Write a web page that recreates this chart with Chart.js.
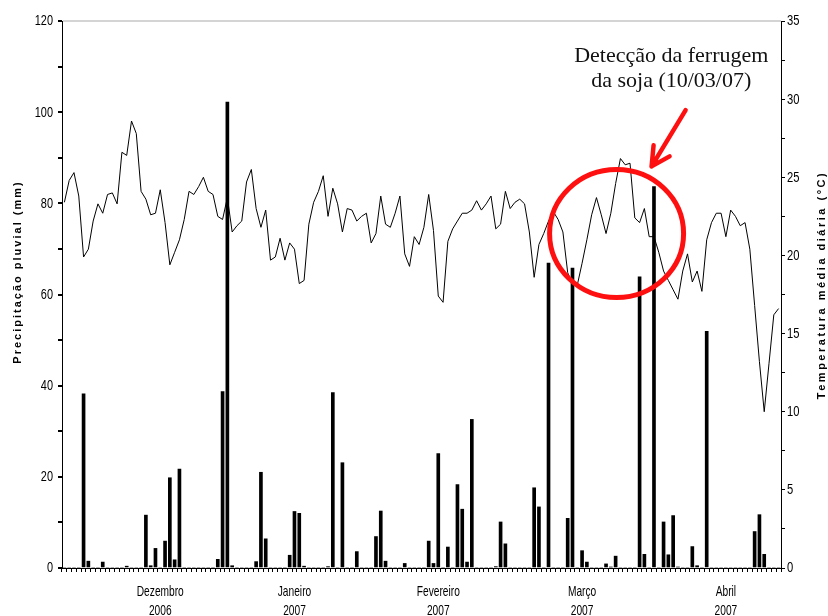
<!DOCTYPE html>
<html>
<head>
<meta charset="utf-8">
<script src="https://cdn.jsdelivr.net/npm/chart.js@4/dist/chart.umd.min.js"></script>
<style>
  html, body { margin: 0; padding: 0; background: #fff; }
  #wrap { width: 828px; height: 616px; }
</style>
</head>
<body>
<div id="wrap"><canvas id="chart" width="828" height="616"></canvas></div>
<script>
  // daily series, 14/11/2006 .. 12/04/2007
  const N_DAYS = 150;
  const days = [];
  for (let i = 0; i < N_DAYS; i++) {
    const d = new Date(2006, 10, 14 + i);
    days.push(d.toLocaleDateString("pt-BR"));
  }

  // precipitação pluvial (mm)
  const precip = [
    0, 0, 0, 0, 38.2, 1.5, 0, 0, 1.3, 0,
    0, 0, 0, 0.4, 0, 0, 0, 11.6, 0.5, 4.3,
    0, 5.9, 19.8, 1.8, 21.7, 0, 0, 0, 0, 0,
    0, 0, 1.9, 38.7, 102.2, 0.5, 0, 0, 0, 0,
    1.4, 21.0, 6.4, 0, 0, 0, 0, 2.8, 12.4, 12.0,
    0.4, 0, 0, 0, 0, 0.3, 38.5, 0, 23.1, 0,
    0, 3.6, 0, 0, 0, 6.9, 12.5, 1.5, 0, 0,
    0, 1.0, 0, 0, 0, 0, 5.9, 1.0, 25.1, 0,
    4.6, 0, 18.3, 12.9, 1.3, 32.6, 0, 0, 0, 0,
    0.3, 10.1, 5.3, 0, 0, 0, 0, 0, 17.6, 13.4,
    0, 66.9, 0, 0, 0, 10.9, 65.8, 0, 3.8, 1.3,
    0, 0, 0, 0.9, 0.2, 2.6, 0, 0, 0, 0,
    63.9, 3.0, 0, 83.7, 0, 10.1, 2.9, 11.5, 0.2, 0,
    0, 4.7, 0.5, 0, 51.9, 0, 0, 0, 0, 0,
    0, 0, 0, 0, 8.0, 11.7, 3.0, 0, 0, 0
  ];

  // temperatura média diária (°C)
  const temp = [
    23.4, 24.8, 25.3, 23.8, 19.9, 20.4, 22.2, 23.3, 22.7, 23.9,
    24.0, 23.3, 26.6, 26.4, 28.6, 27.8, 24.1, 23.6, 22.6, 22.7,
    24.2, 22.1, 19.4, 20.2, 21.0, 22.3, 24.1, 23.9, 24.4, 25.0,
    24.1, 23.9, 22.5, 22.3, 23.7, 21.5, 21.9, 22.2, 24.7, 25.5,
    23.0, 21.8, 22.9, 19.7, 19.9, 21.1, 19.7, 20.8, 20.4, 18.2,
    18.4, 22.0, 23.4, 24.1, 25.1, 22.5, 24.3, 23.3, 21.5, 23.0,
    22.9, 22.2, 22.5, 22.7, 20.8, 21.4, 23.8, 22.0, 21.8, 22.7,
    23.8, 20.1, 19.3, 21.2, 20.7, 21.8, 23.9, 21.6, 17.4, 17.0,
    20.9, 21.7, 22.2, 22.7, 22.7, 22.9, 23.5, 22.9, 23.3, 23.8,
    21.7, 22.0, 24.1, 23.0, 23.4, 23.6, 23.3, 21.5, 18.6, 20.7,
    21.4, 22.2, 22.8, 22.3, 21.5, 18.9, 18.1, 18.1, 19.5, 21.0,
    22.6, 23.7, 22.6, 21.4, 22.7, 24.6, 26.2, 25.8, 25.9, 22.4,
    22.1, 23.0, 21.2, 21.2, 20.2, 19.0, 18.4, 17.8, 17.2, 19.0,
    20.1, 18.3, 19.0, 17.7, 21.0, 22.1, 22.7, 22.7, 21.2, 22.9,
    22.5, 21.9, 22.1, 20.4, 16.8, 13.2, 10.0, 13.1, 16.2, 16.6
  ];

  // tick labels
  const precipTicks = [0, 20, 40, 60, 80, 100, 120];
  const tempTicks = [0, 5, 10, 15, 20, 25, 30, 35];
  const monthIdx = [20, 48, 78, 108, 138];
  const monthTxt = [
    ["Dezembro", "2006"],
    ["Janeiro", "2007"],
    ["Fevereiro", "2007"],
    ["Março", "2007"],
    ["Abril", "2007"]
  ];

  const SANS = '"Liberation Sans", Arial, sans-serif';
  const SERIF = '"Liberation Serif", "Times New Roman", serif';

  // condensed (Arial Narrow look) text
  function narrowText(ctx, txt, x, y, align, size, sx) {
    ctx.save();
    ctx.translate(x, y);
    ctx.scale(sx, 1);
    ctx.font = size + "px " + SANS;
    ctx.textAlign = align;
    ctx.textBaseline = "middle";
    ctx.fillText(String(txt), 0, 0);
    ctx.restore();
  }

  // ── tick labels, titles, red annotation ────────────────────
  const extras = {
    id: "extras",
    afterDraw(chart) {
      const ctx = chart.ctx;
      const xs = chart.scales.x;
      const yp = chart.scales.y;
      const yt = chart.scales.y1;
      const area = chart.chartArea;

      ctx.save();
      ctx.fillStyle = "#000";

      precipTicks.forEach((v) => {
        narrowText(ctx, v, area.left - 9, yp.getPixelForValue(v) + 0.5, "right", 14, 0.78);
      });
      tempTicks.forEach((v) => {
        narrowText(ctx, v, area.right + 6, yt.getPixelForValue(v) + 0.5, "left", 14, 0.8);
      });
      monthIdx.forEach((idx, k) => {
        const x = xs.getPixelForValue(idx);
        narrowText(ctx, monthTxt[k][0], x, area.bottom + 24, "center", 15, 0.68);
        narrowText(ctx, monthTxt[k][1], x, area.bottom + 43, "center", 15, 0.68);
      });

      ctx.font = "bold 11px " + SANS;
      ctx.textAlign = "center";
      ctx.textBaseline = "middle";

      ctx.save();
      ctx.translate(18, 272);
      ctx.rotate(-Math.PI / 2);
      ctx.letterSpacing = "2px";
      ctx.fillText("Precipitação pluvial (mm)", 0, 0);
      ctx.restore();

      ctx.save();
      ctx.translate(822, 285);
      ctx.rotate(-Math.PI / 2);
      ctx.letterSpacing = "2.5px";
      ctx.fillText("Temperatura média diária (°C)", 0, 0);
      ctx.restore();

      // circle round the detection date
      const cx = xs.getPixelForValue(115.2);
      const cy = yt.getPixelForValue(21.4);
      ctx.strokeStyle = "#ff1010";
      ctx.lineWidth = 5;
      ctx.beginPath();
      ctx.ellipse(cx, cy, 67, 64, 0, 0, Math.PI * 2);
      ctx.stroke();

      // arrow
      const tx = xs.getPixelForValue(122.5), ty = yt.getPixelForValue(25.7);
      const sx = xs.getPixelForValue(129.6), sy = yt.getPixelForValue(29.3);
      ctx.lineWidth = 4.5;
      ctx.lineCap = "round";
      ctx.beginPath();
      ctx.moveTo(sx, sy);
      ctx.lineTo(tx, ty);
      ctx.moveTo(tx, ty);
      ctx.lineTo(tx + 2, ty - 21);
      ctx.moveTo(tx, ty);
      ctx.lineTo(tx + 18, ty - 10);
      ctx.stroke();

      // note
      const nx = xs.getPixelForValue(126.6);
      ctx.fillStyle = "#111";
      ctx.font = "22px " + SERIF;
      ctx.letterSpacing = "0px";
      ctx.textBaseline = "alphabetic";
      ctx.fillText("Detecção da ferrugem", nx, yt.getPixelForValue(32.4));
      ctx.fillText("da soja (10/03/07)", nx, yt.getPixelForValue(30.8));
      ctx.restore();
    }
  };

  new Chart(document.getElementById("chart"), {
    data: {
      labels: days,
      datasets: [
        {
          type: "line",
          label: "Temperatura",
          data: temp,
          yAxisID: "y1",
          borderColor: "#000",
          borderWidth: 1,
          pointRadius: 0,
          tension: 0,
          order: 2
        },
        {
          type: "bar",
          label: "Precipitação",
          data: precip,
          yAxisID: "y",
          backgroundColor: "#000",
          barThickness: 3,
          order: 1
        }
      ]
    },
    options: {
      responsive: false,
      animation: false,
      devicePixelRatio: 1,
      layout: { padding: { top: 21, left: 0, right: 0, bottom: 0 } },
      plugins: { legend: { display: false }, tooltip: { enabled: false } },
      scales: {
        x: {
          type: "category",
          offset: true,
          afterFit: (s) => { s.height = 48; },
          border: { color: "#000", width: 1 },
          grid: { offset: true, drawOnChartArea: false, color: "#000", tickLength: 4 },
          ticks: { display: false }
        },
        y: {
          position: "left",
          min: 0,
          max: 120,
          afterFit: (s) => { s.width = 62; },
          border: { color: "#000", width: 1 },
          grid: {
            drawOnChartArea: true,
            color: (c) => (c.tick && c.tick.value === 120 ? "#d4d4d4" : "rgba(0,0,0,0)"),
            lineWidth: 2,
            tickColor: "#000",
            tickLength: 4
          },
          ticks: { display: false, stepSize: 10 }
        },
        y1: {
          position: "right",
          min: 0,
          max: 35,
          afterFit: (s) => { s.width = 47; },
          border: { color: "#000", width: 1 },
          grid: { drawOnChartArea: false, tickColor: "#000", tickLength: 4 },
          ticks: { display: false, stepSize: 2.5 }
        }
      }
    },
    plugins: [extras]
  });
</script>
</body>
</html>
